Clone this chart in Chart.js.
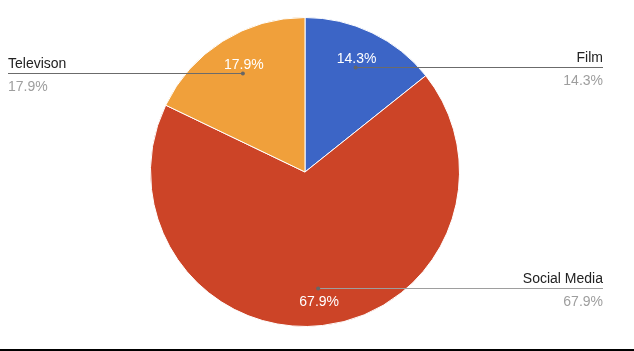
<!DOCTYPE html>
<html lang="en">
<head>
    <meta charset="UTF-8">
    <title>Media Share</title>
    <script src="https://cdn.jsdelivr.net/npm/chart.js"></script>
    <style>
        body {
            margin: 0;
            font-family: "Liberation Sans", Arial, sans-serif;
            background: #fff;
        }
        .wrap {
            width: 634px;
            height: 349px;
            border-bottom: 2px solid #000;
        }
    </style>
</head>
<body>
    <div class="wrap">
        <canvas id="pieChart" width="634" height="349"></canvas>
    </div>

    <script>
        // values
        const categories = ['Film', 'Social Media', 'Televison'];
        const shares = [14.3, 67.9, 17.9];
        const sliceColors = ['#3c65c6', '#cc4427', '#f0a03b'];
        // which side each outer label sits on
        const labelSides = ['right', 'right', 'left'];

        const font = '14px "Liberation Sans", Arial, sans-serif';

        // leader lines, outer labels and in-slice percentages
        const calloutPlugin = {
            id: 'callouts',
            afterDatasetsDraw(chart) {
                const ctx = chart.ctx;
                const meta = chart.getDatasetMeta(0);
                ctx.save();
                ctx.font = font;
                meta.data.forEach((arc, i) => {
                    const p = arc.getProps(['x', 'y', 'startAngle', 'endAngle', 'outerRadius'], true);
                    const mid = (p.startAngle + p.endAngle) / 2;
                    const r = p.outerRadius * 0.755;
                    const dx = p.x + Math.cos(mid) * r;
                    const dy = Math.round(p.y + Math.sin(mid) * r) + 0.5;
                    const pct = shares[i].toFixed(1) + '%';

                    // leader line
                    const endX = labelSides[i] === 'right' ? 603 : 8;
                    ctx.strokeStyle = i === 1 ? '#9e9e9e' : '#6b6b6b';
                    ctx.lineWidth = 1;
                    ctx.beginPath();
                    ctx.moveTo(dx, dy);
                    ctx.lineTo(endX, dy);
                    ctx.stroke();
                    ctx.fillStyle = '#666';
                    ctx.beginPath();
                    ctx.arc(dx, dy, 2, 0, Math.PI * 2);
                    ctx.fill();

                    // outer label
                    ctx.textAlign = labelSides[i] === 'right' ? 'right' : 'left';
                    ctx.textBaseline = 'alphabetic';
                    ctx.fillStyle = '#222';
                    ctx.fillText(categories[i], endX, dy - 6);
                    ctx.fillStyle = '#9e9e9e';
                    ctx.fillText(pct, endX, dy + 17);

                    // percentage inside the slice
                    ctx.textAlign = 'center';
                    ctx.textBaseline = 'middle';
                    ctx.fillStyle = '#fff';
                    const ty = dy < p.y ? dy - 8 : dy + 14;
                    ctx.fillText(pct, dx + 1, ty);
                });
                ctx.restore();
            }
        };

        new Chart(document.getElementById('pieChart'), {
            type: 'pie',
            data: {
                labels: categories,
                datasets: [{
                    data: shares,
                    backgroundColor: sliceColors,
                    borderColor: '#fff',
                    borderWidth: 1
                }]
            },
            options: {
                responsive: false,
                animation: false,
                layout: {
                    padding: { left: 150, right: 174, top: 17, bottom: 22 }
                },
                plugins: {
                    legend: { display: false },
                    tooltip: { enabled: false }
                }
            },
            plugins: [calloutPlugin]
        });
    </script>
</body>
</html>
